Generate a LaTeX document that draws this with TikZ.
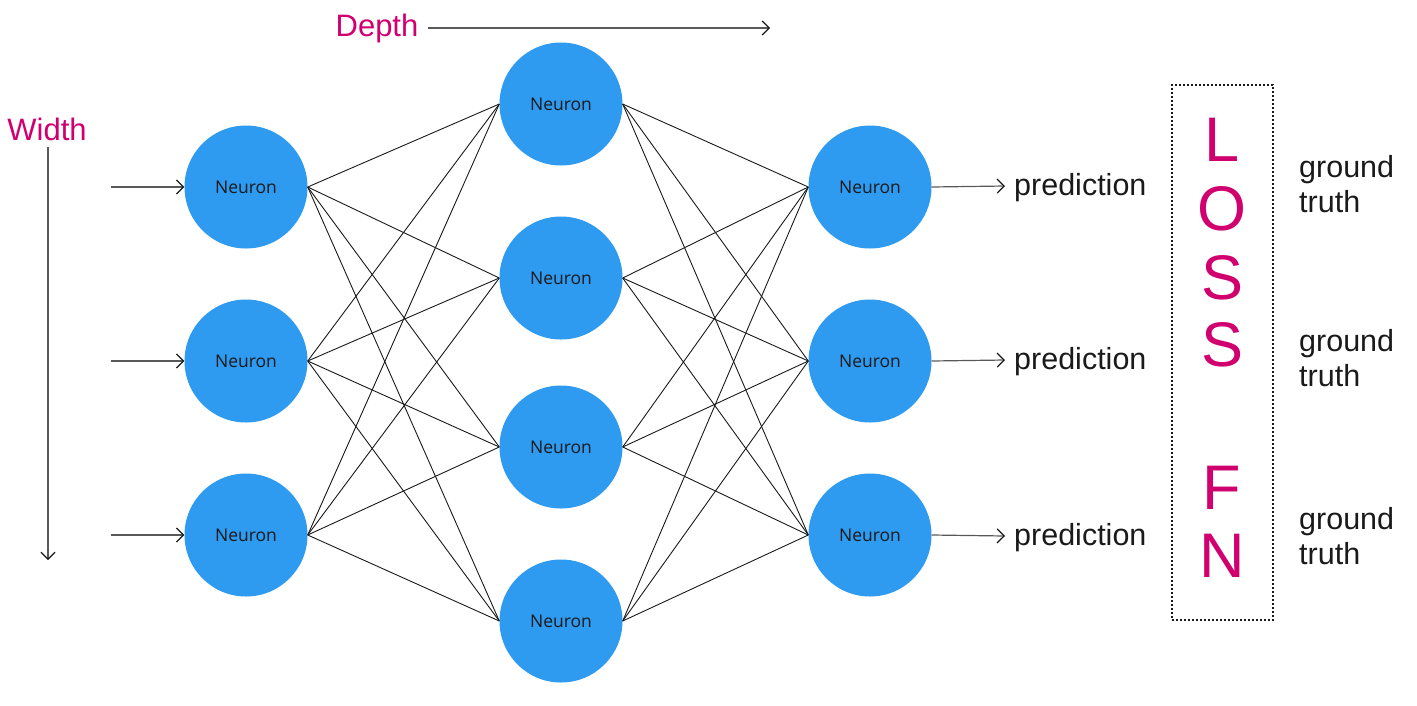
\documentclass[tikz,border=0pt]{standalone}
\usepackage{fontspec}
\setmainfont{Liberation Sans}
\newfontfamily\neuronfont{Open Sans}
\usetikzlibrary{arrows.meta}
\definecolor{nblue}{HTML}{2E9AF0}
\definecolor{mag}{HTML}{D0006F}
\definecolor{txt}{HTML}{1A1A1A}
\begin{document}
\begin{tikzpicture}[x=1pt,y=-1pt,
  neuron/.style={circle,fill=nblue,minimum size=123pt,inner sep=0pt,font=\neuronfont\fontsize{17.5}{20}\selectfont,text=txt},
  link/.style={draw=txt,line width=0.9pt},
  arr/.style={draw=black!65,line width=1.2pt,-{Straight Barb[length=7pt,width=14pt,line width=1.2pt,color=txt]}},
  lbl/.style={font=\fontsize{30.5}{36}\selectfont,text=txt,anchor=west,inner sep=0pt},
  mlbl/.style={font=\fontsize{31}{36}\selectfont,text=mag,inner sep=0pt},
  big/.style={font=\fontsize{63}{70}\selectfont,text=mag,inner sep=0pt},
  gt/.style={font=\fontsize{30.5}{35}\selectfont,text=txt,anchor=west,align=left,inner sep=0pt}]
\useasboundingbox (0,0) rectangle (1417,705);
% layer 1
\node[neuron] (a1) at (246,187) {Neuron};
\node[neuron] (a2) at (246,361) {Neuron};
\node[neuron] (a3) at (246,535) {Neuron};
% layer 2
\node[neuron] (b1) at (561,104) {Neuron};
\node[neuron] (b2) at (561,278) {Neuron};
\node[neuron] (b3) at (561,447) {Neuron};
\node[neuron] (b4) at (561,621) {Neuron};
% layer 3
\node[neuron] (c1) at (870,187) {Neuron};
\node[neuron] (c2) at (870,361) {Neuron};
\node[neuron] (c3) at (870,535) {Neuron};
% connections
\foreach \i in {1,2,3}{\foreach \j in {1,2,3,4}{\draw[link] (a\i.east) -- (b\j.west);}}
\foreach \j in {1,2,3,4}{\foreach \k in {1,2,3}{\draw[link] (b\j.east) -- (c\k.west);}}
% inputs
\coordinate (i1) at (111,187);
\coordinate (i2) at (111,361);
\coordinate (i3) at (111,535);
\foreach \i in {1,2,3}{\draw[arr] (i\i) -- (a\i.west);}
% outputs
\node[lbl] (p1) at (1014,188) {prediction};
\node[lbl] (p2) at (1014,362) {prediction};
\node[lbl] (p3) at (1014,538) {prediction};
\foreach \i in {1,2,3}{\draw[arr] (c\i.east) -- ([xshift=-9pt,yshift=2pt]p\i.west);}
% width / depth
\node[mlbl] (w) at (47,129) {Width};
\coordinate (wb) at (48,560);
\draw[arr] (48,147) -- (wb);
\node[mlbl] (d) at (377,28) {Depth};
\coordinate (de) at (770,28);
\draw[arr] (428,28) -- (de);
% loss box
\node[draw=txt,line width=2pt,dash pattern=on 2pt off 2pt,minimum width=101pt,minimum height=535pt,inner sep=0pt] (box) at (1222.5,352.5) {};
\node[big] (L) at (1222,140) {L};
\node[big] (O1) at (1222,209) {O};
\node[big] (S1) at (1222,278) {S};
\node[big] (S2) at (1222,345) {S};
\node[big] (F) at (1222,488) {F};
\node[big] (N) at (1222,556) {N};
% ground truth
\node[gt] (g1) at (1299,184) {ground\\truth};
\node[gt] (g2) at (1299,358) {ground\\truth};
\node[gt] (g3) at (1299,536) {ground\\truth};
\end{tikzpicture}
\end{document}
